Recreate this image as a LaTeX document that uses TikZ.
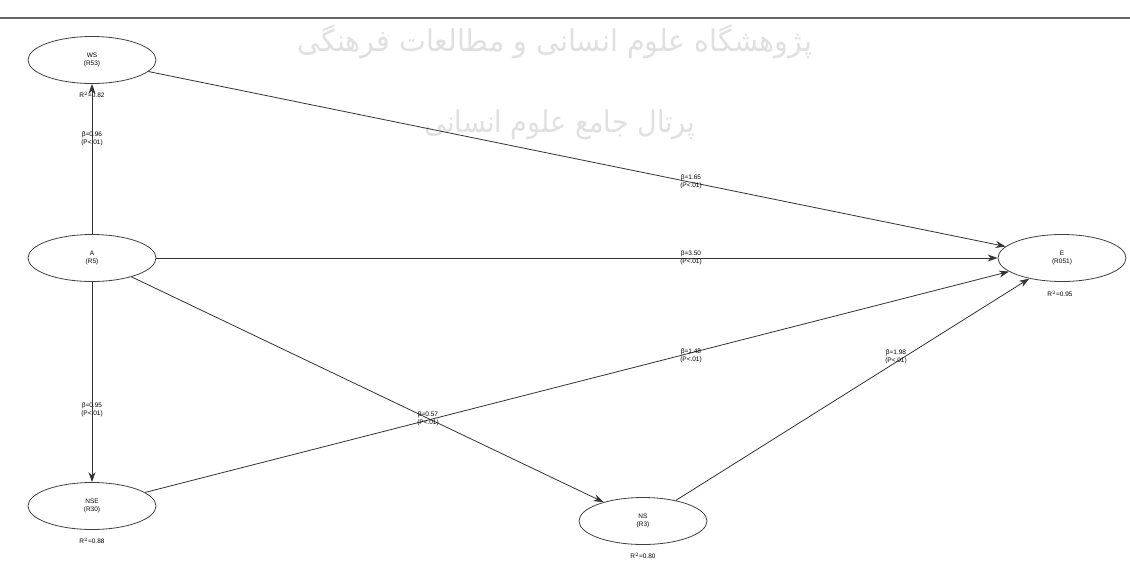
\documentclass[tikz,border=0pt]{standalone}
\usepackage{fontspec}
\setmainfont{Liberation Sans}
\newfontfamily\arabicfont[Script=Arabic]{DejaVu Sans}
\TeXXeTstate=1
\usetikzlibrary{shapes.geometric,arrows.meta}
\begin{document}
\begin{tikzpicture}[x=1pt,y=-1pt,
  lv/.style={ellipse,draw=black!75,line width=0.8pt,minimum width=128pt,minimum height=47pt,inner sep=0pt,align=center,font=\fontsize{6.5}{8}\selectfont},
  path/.style={draw=black!80,line width=0.8pt,-{Stealth[length=10pt,width=7pt]}},
  coef/.style={align=center,font=\fontsize{6.5}{8}\selectfont,inner sep=0pt},
  rsq/.style={font=\fontsize{6.5}{7.5}\selectfont,inner sep=0pt},
  wm/.style={text=black!12,font=\arabicfont\fontsize{30}{32}\selectfont,inner sep=0pt}]
\useasboundingbox (0,0) rectangle (1130,563);
\fill[white] (0,0) rectangle (1130,563);
% watermark
\node[wm,xscale=0.95] (wm1) at (555,42) {\beginR پژوهشگاه علوم انسانی و مطالعات فرهنگی\endR};
\node[wm,xscale=0.9] (wm2) at (560,125) {\beginR پرتال جامع علوم انسانی\endR};
% top rule
\coordinate (tl) at (0,18);
\coordinate (tr) at (1130,18);
\draw[black!60,line width=2.2pt] (tl) -- (tr);
% latent variables
\node[lv] (WS) at (92,60) {WS\\(R53)};
\node[lv] (A) at (92,258) {A\\(R5)};
\node[lv] (NSE) at (92,506) {NSE\\(R30)};
\node[lv] (NS) at (643,521) {NS\\(R3)};
\node[lv] (E) at (1062,258) {E\\(R051)};
% R squared
\node[rsq] (rWS) at (92,95) {R$^2$=0.82};
\node[rsq] (rNSE) at (92,541) {R$^2$=0.88};
\node[rsq] (rNS) at (643,556) {R$^2$=0.80};
\node[rsq] (rE) at (1060,294) {R$^2$=0.95};
% paths
\draw[path] (A) -- (WS);
\draw[path] (A) -- (NSE);
\draw[path] (WS) -- (E);
\draw[path] (A) -- (E);
\draw[path] (A) -- (NS);
\draw[path] (NSE) -- (E);
\draw[path] (NS) -- (E);
% coefficients
\node[coef] (cAWS) at (92,139) {β=0.96\\(P<.01)};
\node[coef] (cANSE) at (92,410) {β=0.95\\(P<.01)};
\node[coef] (cWSE) at (691,182) {β=1.65\\(P<.01)};
\node[coef] (cAE) at (691,258) {β=3.50\\(P<.01)};
\node[coef] (cNSEE) at (691,356) {β=1.48\\(P<.01)};
\node[coef] (cANS) at (428,419) {β=0.57\\(P<.01)};
\node[coef] (cNSE2) at (896,357) {β=1.98\\(P<.01)};
\end{tikzpicture}
\end{document}
